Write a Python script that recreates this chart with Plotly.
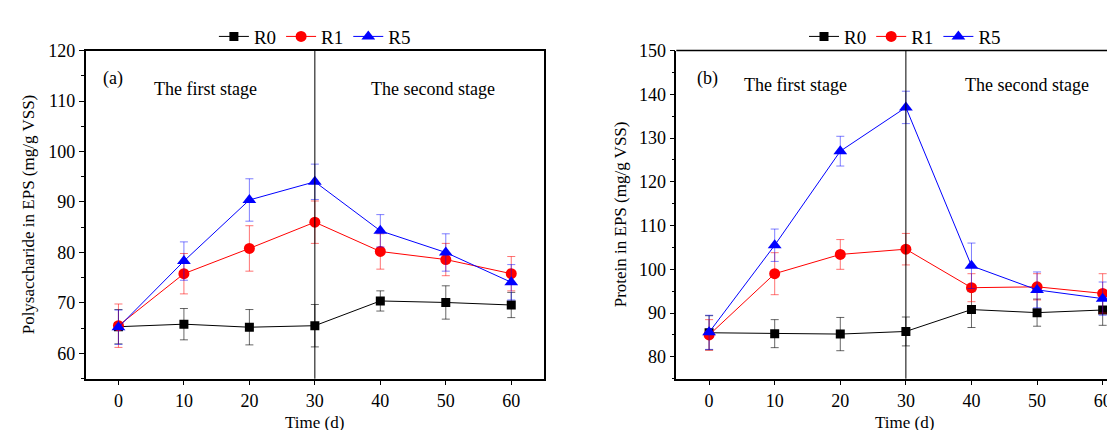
import plotly.graph_objects as go

days = [0, 10, 20, 30, 40, 50, 60]
series_names = ["R0", "R1", "R5"]

# (a) Polysaccharide in EPS (mg/g VSS)
poly_R0 = [65.3, 65.8, 65.2, 65.5, 70.4, 70.1, 69.6]
poly_R0_err = [3.4, 3.1, 3.5, 4.2, 2.0, 3.3, 2.5]
poly_R1 = [65.5, 75.8, 80.8, 86.0, 80.2, 78.6, 75.8]
poly_R1_err = [4.3, 4.0, 4.5, 4.2, 3.5, 3.2, 3.4]
poly_R5 = [65.2, 78.3, 90.4, 94.0, 84.3, 80.0, 74.1]
poly_R5_err = [3.4, 3.8, 4.2, 3.5, 3.2, 3.7, 3.5]

# (b) Protein in EPS (mg/g VSS)
prot_R0 = [85.5, 85.3, 85.2, 85.8, 90.8, 90.1, 90.7]
prot_R0_err = [3.9, 3.2, 3.8, 3.3, 4.1, 3.1, 3.5]
prot_R1 = [85.0, 99.0, 103.4, 104.6, 95.8, 96.0, 94.5]
prot_R1_err = [3.5, 4.8, 3.4, 3.6, 3.2, 3.0, 4.5]
prot_R5 = [85.6, 105.5, 127.0, 137.0, 100.8, 95.3, 93.3]
prot_R5_err = [3.9, 3.7, 3.4, 3.7, 5.2, 4.1, 3.8]

colors = ["#000000", "#FF0000", "#0000FF"]
err_colors = ["rgba(0,0,0,0.6)", "rgba(255,0,0,0.55)", "rgba(0,0,255,0.5)"]
symbols = ["square", "circle", "triangle-up"]
msizes = [9, 11, 12]

FONT = "Liberation Serif"

fig = go.Figure()

panels = [
    ("x", "y", "legend", [poly_R0, poly_R1, poly_R5], [poly_R0_err, poly_R1_err, poly_R5_err]),
    ("x2", "y2", "legend2", [prot_R0, prot_R1, prot_R5], [prot_R0_err, prot_R1_err, prot_R5_err]),
]
for xa, ya, lg, vals, errs in panels:
    for i, name in enumerate(series_names):
        fig.add_trace(go.Scatter(
            x=days, y=vals[i], name=name, mode="lines+markers",
            xaxis=xa, yaxis=ya, legend=lg,
            line=dict(color=colors[i], width=1),
            marker=dict(symbol=symbols[i], size=msizes[i], color=colors[i]),
            error_y=dict(type="data", array=errs[i], visible=True,
                         color=err_colors[i], thickness=1, width=4),
        ))

W, H = 1115, 430
top = 1 - 33.3 / H
bottom = 1 - 369.3 / H

axis_common = dict(
    showline=True, linecolor="black", linewidth=1.5,
    ticks="outside", ticklen=5, tickwidth=1.2, tickcolor="black",
    showgrid=False, zeroline=False,
    tickfont=dict(family=FONT, size=18, color="black"),
)

fig.update_layout(
    width=W, height=H,
    margin=dict(l=0, r=0, t=0, b=0),
    paper_bgcolor="white", plot_bgcolor="white",
    font=dict(family=FONT, size=18, color="black"),
    xaxis=dict(domain=[77.7 / W, 536 / W], range=[-5, 65], tickvals=days,
               mirror=True, anchor="y", **axis_common),
    yaxis=dict(domain=[bottom, top], range=[55, 120], dtick=10, tick0=60,
               mirror=True, anchor="x",
               minor=dict(ticks="outside", ticklen=3, dtick=5, tickcolor="black"),
               **axis_common),
    xaxis2=dict(domain=[668.3 / W, 1.0], range=[-5, 63.1], tickvals=days,
                mirror=False, anchor="y2", **axis_common),
    yaxis2=dict(domain=[bottom, top], range=[75, 150], dtick=10, tick0=80,
                mirror=False, anchor="x2",
                minor=dict(ticks="outside", ticklen=3, dtick=5, tickcolor="black"),
                **axis_common),
    legend=dict(orientation="h", x=306.9 / W, xanchor="center",
                y=1 - 19 / H, yanchor="middle",
                font=dict(family=FONT, size=19), itemwidth=30,
                tracegroupgap=0, bgcolor="rgba(0,0,0,0)"),
    legend2=dict(orientation="h", x=897 / W, xanchor="center",
                 y=1 - 19 / H, yanchor="middle",
                 font=dict(family=FONT, size=19), itemwidth=30,
                 tracegroupgap=0, bgcolor="rgba(0,0,0,0)"),
    showlegend=True,
)

# top border line for right panel (plot is cut at the right edge)
fig.add_shape(type="line", xref="x2 domain", yref="y2 domain",
              x0=0, x1=1, y0=1, y1=1, line=dict(color="black", width=1.5))

# stage dividers at day 30
fig.add_shape(type="line", xref="x", yref="y domain", x0=30, x1=30, y0=0, y1=1,
              line=dict(color="black", width=1))
fig.add_shape(type="line", xref="x2", yref="y2 domain", x0=30, x1=30, y0=0, y1=1,
              line=dict(color="black", width=1))

ann_font = dict(family=FONT, size=18, color="black")
annotations = [
    ("x", "y", -0.8, 114.5, "(a)"),
    ("x", "y", 13.3, 112.4, "The first stage"),
    ("x", "y", 48.1, 112.4, "The second stage"),
    ("x2", "y2", -0.2, 143.7, "(b)"),
    ("x2", "y2", 13.1, 142.2, "The first stage"),
    ("x2", "y2", 48.4, 142.2, "The second stage"),
]
for xr, yr, xv, yv, txt in annotations:
    fig.add_annotation(xref=xr, yref=yr, x=xv, y=yv, text=txt, showarrow=False,
                       font=ann_font, xanchor="center", yanchor="middle")

# axis titles
title_font = dict(family=FONT, size=17, color="black")
axis_titles = [
    (306.9, 414, "Time (d)", 0),
    (897, 414, "Time (d)", 0),
    (20, 201, "Polysaccharide in EPS (mg/g VSS)", -90),
    (612, 201, "Protein in EPS (mg/g VSS)", -90),
]
for xpx, ypx, txt, ang in axis_titles:
    fig.add_annotation(xref="paper", yref="paper", x=xpx / W, y=1 - ypx / H,
                       text=txt, showarrow=False, textangle=ang,
                       font=title_font, xanchor="center", yanchor="middle")

fig.write_html("out.html")
